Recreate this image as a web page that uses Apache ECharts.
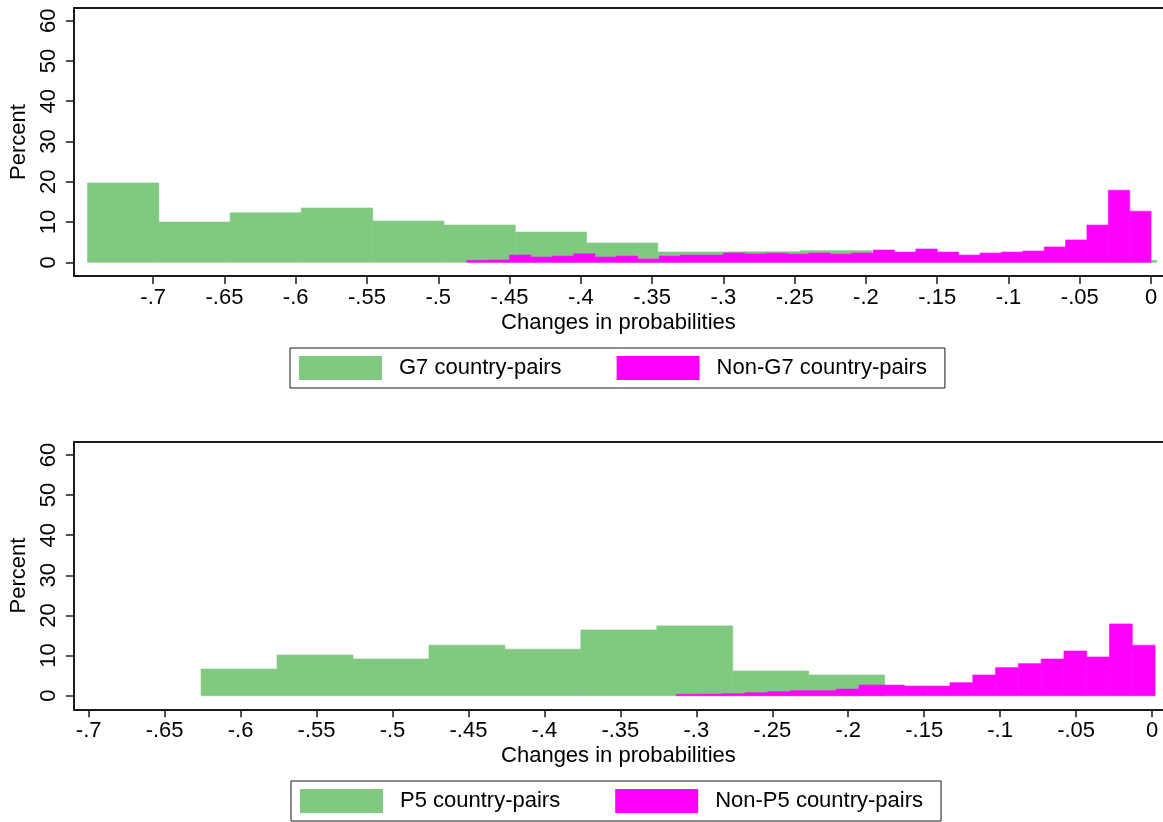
<!DOCTYPE html>
<html><head><meta charset="utf-8">
<script src="https://cdn.jsdelivr.net/npm/echarts@6/dist/echarts.min.js"></script>
<style>html,body{margin:0;padding:0;background:#fff}#c{width:1163px;height:822px}</style>
</head><body><div id="c"></div>
<script>
// ---- data ----
const xTicks = [-0.7,-0.65,-0.6,-0.55,-0.5,-0.45,-0.4,-0.35,-0.3,-0.25,-0.2,-0.15,-0.1,-0.05,0];
const yTicks = [0,10,20,30,40,50,60];

const g7Start = -0.746, g7Width = 0.05;
const g7Percent = [19.7,10.0,12.3,13.5,10.25,9.25,7.5,4.8,2.55,2.6,2.9,2.0,1.5,1.2,0.5];

const nonG7Start = -0.48, nonG7Width = 0.015;
const nonG7Percent = [0.5,0.57,1.8,1.3,1.55,2.1,1.3,1.55,0.8,1.55,1.8,1.8,2.3,2.1,2.25,2.05,2.3,2.05,2.3,3.05,2.55,3.3,2.55,1.8,2.3,2.55,2.8,3.8,5.55,9.25,17.9,12.7];

const p5Start = -0.626, p5Width = 0.05;
const p5Percent = [6.65,10.15,9.15,12.6,11.6,16.4,17.4,6.15,5.15];

const nonP5Start = -0.313, nonP5Width = 0.015;
const nonP5Percent = [0.35,0.4,0.5,0.75,1.0,1.25,1.25,1.65,2.65,2.65,2.4,2.4,3.25,5.15,7.0,8.0,9.15,11.15,9.65,17.9,12.6];

const legendTop = ['G7 country-pairs','Non-G7 country-pairs'];
const legendBottom = ['P5 country-pairs','Non-P5 country-pairs'];
const xTitle = 'Changes in probabilities';
const yTitle = 'Percent';

// ---- chart ----
const FONT = 'Liberation Sans, Arial, Helvetica, sans-serif';
const FS = 22;
const GREEN = '#80C980', MAGENTA = '#FF00FF', INK = '#1a1a1a';

function bins(start, width, vals){
  return vals.map((v,i)=>[start+i*width, start+(i+1)*width, v]);
}
function renderBar(params, api){
  const p0 = api.coord([api.value(0), api.value(2)]);
  const p1 = api.coord([api.value(1), 0]);
  const c = api.visual('color');
  return {type:'rect', shape:{x:p0[0], y:p0[1], width:p1[0]-p0[0], height:p1[1]-p0[1]},
          style:{fill:c, stroke:c, lineWidth:0.6}};
}
function fmtX(v){
  if (Math.abs(v) < 1e-9) return '0';
  return '-' + String(Math.abs(v)).replace(/^0/,'');
}
function xAx(grid, min, max){
  return {type:'value', gridIndex:grid, min:min, max:max, position:'bottom',
    axisLine:{show:true, onZero:false, lineStyle:{color:INK, width:2}},
    axisTick:{show:true, customValues:xTicks, length:8, lineStyle:{color:INK, width:1.5}},
    axisLabel:{customValues:xTicks, formatter:fmtX, fontSize:FS, fontFamily:FONT, color:'#000', margin:11},
    splitLine:{show:false},
    name:xTitle, nameLocation:'middle', nameGap:36,
    nameTextStyle:{fontSize:FS, fontFamily:FONT, color:'#000'}};
}
function topLine(grid, min, max){
  return {type:'value', gridIndex:grid, min:min, max:max, position:'top',
    axisLine:{show:true, onZero:false, lineStyle:{color:INK, width:2}},
    axisTick:{show:false}, axisLabel:{show:false}, splitLine:{show:false}};
}
function yAx(grid, min, max){
  return {type:'value', gridIndex:grid, min:min, max:max,
    axisLine:{show:true, onZero:false, lineStyle:{color:INK, width:2}},
    axisTick:{show:true, customValues:yTicks, length:8, lineStyle:{color:INK, width:1.5}},
    axisLabel:{customValues:yTicks, rotate:90, fontSize:FS, fontFamily:FONT, color:'#000', margin:14},
    splitLine:{show:false},
    name:yTitle, nameLocation:'middle', nameRotate:90, nameGap:39,
    nameTextStyle:{fontSize:FS, fontFamily:FONT, color:'#000'}};
}
function legendCfg(names, left, top){
  return {data:names.map(n=>({name:n})), left:left, top:top, orient:'horizontal',
    itemWidth:83, itemHeight:24, itemGap:55, icon:'rect', selectedMode:false,
    padding:[8,18,8,9], borderColor:INK, borderWidth:1, backgroundColor:'#fff',
    textStyle:{fontSize:FS, fontFamily:FONT, color:'#000', padding:[0,0,0,12]}};
}

const option = {
  animation:false,
  backgroundColor:'#fff',
  grid:[
    {left:69, top:8, width:1094, height:268},
    {left:69, top:441.7, width:1094, height:267.6}
  ],
  xAxis:[
    xAx(0, -0.75559, 0.00838),
    xAx(1, -0.70970, 0.00721),
    topLine(0, -0.75559, 0.00838),
    topLine(1, -0.70970, 0.00721)
  ],
  yAxis:[ yAx(0, -3.40, 63.15), yAx(1, -3.39, 63.31) ],
  legend:[ legendCfg(legendTop, 290, 348), legendCfg(legendBottom, 291, 781) ],
  series:[
    {type:'custom', name:legendTop[0], xAxisIndex:0, yAxisIndex:0, renderItem:renderBar,
     itemStyle:{color:GREEN}, encode:{x:[0,1], y:2}, data:bins(g7Start,g7Width,g7Percent), z:2},
    {type:'custom', name:legendTop[1], xAxisIndex:0, yAxisIndex:0, renderItem:renderBar,
     itemStyle:{color:MAGENTA}, encode:{x:[0,1], y:2}, data:bins(nonG7Start,nonG7Width,nonG7Percent), z:3},
    {type:'custom', name:legendBottom[0], xAxisIndex:1, yAxisIndex:1, renderItem:renderBar,
     itemStyle:{color:GREEN}, encode:{x:[0,1], y:2}, data:bins(p5Start,p5Width,p5Percent), z:2},
    {type:'custom', name:legendBottom[1], xAxisIndex:1, yAxisIndex:1, renderItem:renderBar,
     itemStyle:{color:MAGENTA}, encode:{x:[0,1], y:2}, data:bins(nonP5Start,nonP5Width,nonP5Percent), z:3}
  ]
};
const chart = echarts.init(document.getElementById('c'), null, {renderer:'canvas'});
chart.setOption(option);
</script></body></html>
